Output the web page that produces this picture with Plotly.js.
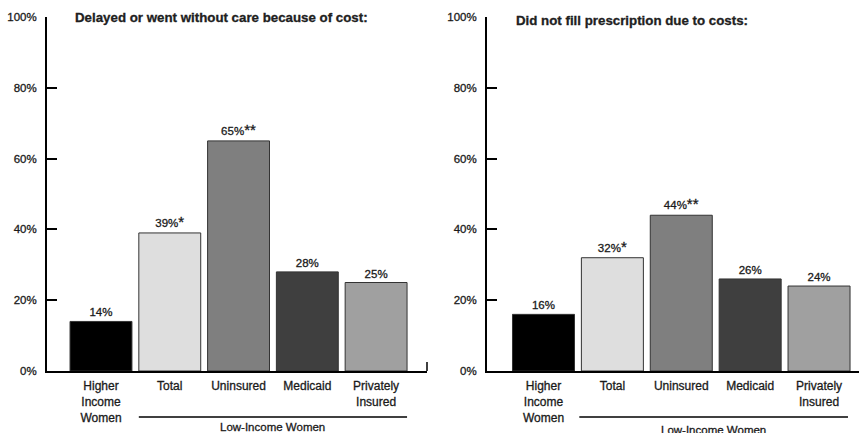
<!DOCTYPE html>
<html><head><meta charset="utf-8">
<script src="https://cdn.plot.ly/plotly-3.0.1.min.js"></script>
<style>
html,body{margin:0;padding:0;background:#fff;}
#chart{width:859px;height:433px;}
#chart .xtick text, #chart .x2tick text, #chart .ytick text, #chart .y2tick text, #chart text.bartext, #chart .annotation-text{stroke:#1a1a1a;stroke-width:0.3px;}
</style>
</head><body><div id="chart"></div>
<script>
const categories = ["Higher<br>Income<br>Women", "Total", "Uninsured", "Medicaid", "Privately<br>Insured"];
const delayedValues = [14, 39, 65, 28, 25];
const delayedLabels = ["14%", "39%*", "65%**", "28%", "25%"];
const prescriptionValues = [16, 32, 44, 26, 24];
const prescriptionLabels = ["16%", "32%*", "44%**", "26%", "24%"];
const barColors = ["#000000", "#dedede", "#7f7f7f", "#3f3f3f", "#a0a0a0"];
const titles = ["Delayed or went without care because of cost:", "Did not fill prescription due to costs:"];
const groupLabel = "Low-Income Women";

const FONT = "'Liberation Sans', Arial, Helvetica, sans-serif";
const W = 859, H = 433;
const px = v => v / W, py = v => (H - v) / H;

function bar(xa, ya, vals, labels) {
  return {
    type: 'bar', x: categories, y: vals, xaxis: xa, yaxis: ya,
    width: 0.9,
    marker: {color: barColors, line: {color: '#333', width: 1}},
    text: labels.map(t => t.replace(/(\*+)$/, '<span style="font-size:15px">$1</span>')),
    textposition: 'outside', cliponaxis: false,
    textfont: {family: FONT, size: 11.5, color: '#1a1a1a'},
    hoverinfo: 'none'
  };
}

const yax = (dom) => ({
  domain: dom, range: [0, 100], dtick: 20, ticksuffix: '%',
  showline: true, linecolor: '#000', linewidth: 2,
  ticks: 'inside', ticklen: 10, tickwidth: 2, tickcolor: '#000',
  ticklabelstandoff: 6,
  showgrid: false, zeroline: false, fixedrange: true,
  tickfont: {family: FONT, size: 11.5, color: '#1a1a1a'}
});
const xax = (dom, rng, anchor) => ({
  domain: dom, range: rng, anchor: anchor, type: 'category',
  showline: true, linecolor: '#000', linewidth: 2, ticks: '',
  ticklabelstandoff: 3,
  showgrid: false, zeroline: false, fixedrange: true,
  tickfont: {family: FONT, size: 12, color: '#1a1a1a'}
});

const yDom = [py(371), py(17)];
const layout = {
  width: W, height: H, margin: {l: 0, r: 0, t: 0, b: 0},
  paper_bgcolor: '#fff', plot_bgcolor: '#fff', showlegend: false,
  font: {family: FONT},
  xaxis: xax([px(47), px(427)], [-0.785, 4.74], 'y'),
  yaxis: yax(yDom),
  xaxis2: xax([px(487), px(859)], [-0.82, 4.58], 'y2'),
  yaxis2: Object.assign(yax(yDom), {anchor: 'x2'}),
  shapes: [
    {type: 'line', xref: 'x', yref: 'paper', x0: 0.55, x1: 4.45, y0: py(417), y1: py(417), line: {color: '#000', width: 1.5}},
    {type: 'line', xref: 'x2', yref: 'paper', x0: 0.52, x1: 4.42, y0: py(417), y1: py(417), line: {color: '#000', width: 1.5}},
    {type: 'line', xref: 'paper', yref: 'paper', x0: px(427), x1: px(427), y0: py(371), y1: py(362), line: {color: '#000', width: 1.5}}
  ],
  annotations: [
    {xref: 'paper', yref: 'paper', x: px(73), y: py(18), xanchor: 'left', yanchor: 'middle', showarrow: false, text: '<b>' + titles[0] + '</b>', font: {family: FONT, size: 13.3, color: '#222'}},
    {xref: 'paper', yref: 'paper', x: px(514), y: py(21), xanchor: 'left', yanchor: 'middle', showarrow: false, text: '<b>' + titles[1] + '</b>', font: {family: FONT, size: 13.3, color: '#222'}},
    {xref: 'x', yref: 'paper', x: 2.5, y: py(426.5), xanchor: 'center', yanchor: 'middle', showarrow: false, text: groupLabel, font: {family: FONT, size: 11.5, color: '#1a1a1a'}},
    {xref: 'x2', yref: 'paper', x: 2.47, y: py(429.5), xanchor: 'center', yanchor: 'middle', showarrow: false, text: groupLabel, font: {family: FONT, size: 11.5, color: '#1a1a1a'}}
  ]
};

Plotly.newPlot('chart', [bar('x', 'y', delayedValues, delayedLabels), bar('x2', 'y2', prescriptionValues, prescriptionLabels)], layout, {displayModeBar: false, staticPlot: true});
</script></body></html>
